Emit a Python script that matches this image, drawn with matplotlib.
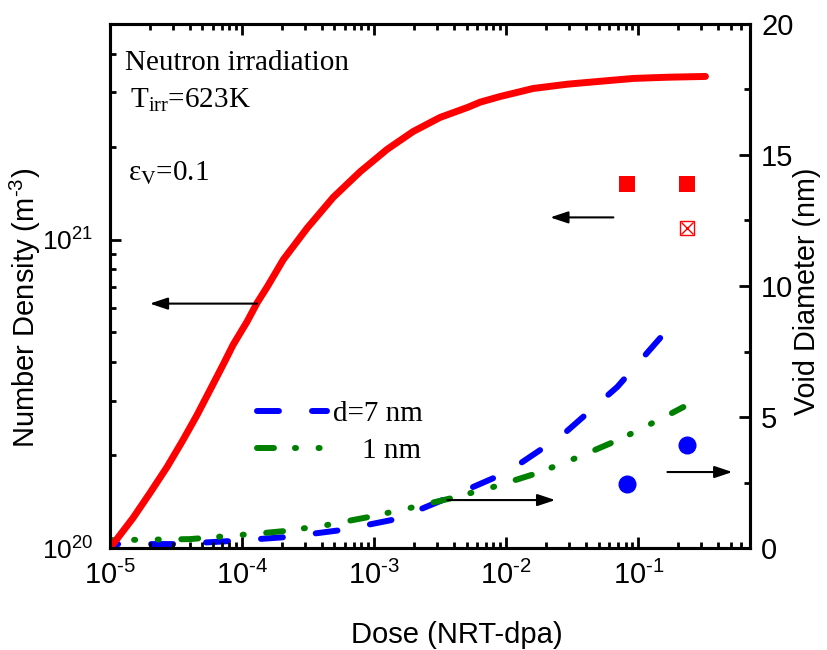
import numpy as np
import matplotlib
matplotlib.use('Agg')
import matplotlib.pyplot as plt
from matplotlib.lines import Line2D
from matplotlib.ticker import LogLocator, FuncFormatter, NullFormatter, MultipleLocator

# 数据：数密度（左轴，对数）
dose_density = [1.0e-5, 1.49e-5, 2.01e-5, 2.70e-5, 3.57e-5, 4.56e-5, 5.73e-5, 7.18e-5, 8.55e-5,
                1.09e-4, 1.30e-4, 1.55e-4, 2.05e-4, 3.11e-4, 4.89e-4, 7.83e-4, 1.25e-3,
                1.97e-3, 3.16e-3, 5.07e-3, 6.35e-3, 9.0e-3, 1.6e-2, 2.9e-2, 5.15e-2,
                9.16e-2, 0.166, 0.322]
number_density = [1.0e20, 1.25e20, 1.51e20, 1.83e20, 2.24e20, 2.70e20, 3.26e20, 3.93e20, 4.56e20,
                  5.42e20, 6.24e20, 7.03e20, 8.61e20, 1.09e21, 1.37e21, 1.66e21, 1.96e21,
                  2.24e21, 2.49e21, 2.68e21, 2.79e21, 2.91e21, 3.09e21, 3.19e21, 3.26e21,
                  3.33e21, 3.36e21, 3.38e21]

# 空洞直径（右轴）
dose_d7 = [1e-5, 3.22e-5, 8.4e-5, 2.19e-4, 5.73e-4, 1.49e-3, 3.76e-3, 1.02e-2, 2.66e-2, 6.93e-2, 0.160]
diam_d7 = [0.15, 0.15, 0.27, 0.42, 0.69, 1.11, 1.95, 2.90, 4.31, 6.15, 8.24]
dose_d1 = [1e-5, 4.04e-5, 1.44e-4, 2.12e-4, 4.41e-4, 9.01e-4, 1.87e-3, 3.90e-3, 7.97e-3,
           1.72e-2, 3.51e-2, 7.31e-2, 0.152, 0.219]
diam_d1 = [0.3, 0.34, 0.57, 0.65, 0.88, 1.18, 1.53, 1.91, 2.33, 2.86, 3.47, 4.16, 4.96, 5.38]

# 实验点
exp_dose = [0.0826, 0.235]
exp_density = [1.51e21, 1.51e21]
exp_dose_cross = [0.235]
exp_density_cross = [1.09e21]
exp_diam = [2.44, 3.93]

# 箭头 (起点, 终点)
arrows_left = [((0.0647, 1.18e21), (0.0215, 1.18e21)),
               ((1.30e-4, 6.2e20), (2.0e-5, 6.2e20))]
arrows_right = [((3.57e-3, 1.83), (2.35e-2, 1.83)),
                ((0.166, 2.9), (0.515, 2.9))]

plt.rcParams['font.family'] = ['Liberation Sans', 'DejaVu Sans']
plt.rcParams['mathtext.fontset'] = 'custom'
plt.rcParams['mathtext.rm'] = 'Liberation Sans'
plt.rcParams['mathtext.default'] = 'regular'
plt.rcParams['lines.scale_dashes'] = False

FS = 21
blue_dash = (15.8, 23.8)
green_dash = (12.2, 15.1, 0.8, 16.2, 0.8, 16.2)


def pow10(v, pos):
    e = int(round(np.log10(v)))
    return r'$10^{\text{%d}}$' % e


fig = plt.figure(figsize=(8.28, 6.5), dpi=100)
ax = fig.add_axes([0.1329, 0.1569, 0.7729, 0.8062])
ax2 = ax.twinx()
ax.set_zorder(ax2.get_zorder() + 1)
ax.patch.set_visible(False)

lw = 4.3
ax2.plot(dose_d7, diam_d7, color='#0000ff', lw=lw, ls=(10, blue_dash), dash_capstyle='round')
ax2.plot(dose_d1, diam_d1, color='#008000', lw=lw, ls=(10, green_dash), dash_capstyle='round')
ax2.plot(exp_dose, exp_diam, 'o', color='#0000ff', ms=12, mec='#0000ff')

ax.plot(dose_density, number_density, color='#ff0000', lw=5, solid_capstyle='round')
ax.plot(exp_dose, exp_density, 's', color='#ff0000', ms=11.5, mew=0)
ax.plot(exp_dose_cross, exp_density_cross, 's', mfc='white', mec='#ff0000', ms=10.5, mew=1)
ax.plot(exp_dose_cross, exp_density_cross, 'x', color='#ff0000', ms=9, mew=1)

for (x0, y0), (x1, y1) in arrows_left:
    ax.annotate('', xy=(x1, y1), xytext=(x0, y0),
                arrowprops=dict(arrowstyle='-|>,head_length=0.6,head_width=0.2',
                                mutation_scale=18, lw=1.5, color='black',
                                shrinkA=0, shrinkB=0))
for (x0, y0), (x1, y1) in arrows_right:
    ax2.annotate('', xy=(x1, y1), xytext=(x0, y0),
                 arrowprops=dict(arrowstyle='-|>,head_length=0.6,head_width=0.2',
                                 mutation_scale=18, lw=1.5, color='black',
                                 shrinkA=0, shrinkB=0))

ax.set_xscale('log')
ax.set_yscale('log')
ax.set_xlim(1e-5, 0.7)
ax.set_ylim(1e20, 5e21)
ax2.set_ylim(0, 20)

ax.xaxis.set_major_locator(LogLocator(base=10, numticks=10))
ax.xaxis.set_minor_locator(LogLocator(base=10, subs=np.arange(2, 10), numticks=20))
ax.xaxis.set_minor_formatter(NullFormatter())
ax.xaxis.set_major_formatter(FuncFormatter(pow10))
ax.yaxis.set_major_locator(LogLocator(base=10, numticks=10))
ax.yaxis.set_minor_locator(LogLocator(base=10, subs=np.arange(2, 10), numticks=20))
ax.yaxis.set_minor_formatter(NullFormatter())
ax.yaxis.set_major_formatter(FuncFormatter(pow10))
ax2.yaxis.set_major_locator(MultipleLocator(5))
ax2.yaxis.set_minor_locator(MultipleLocator(2.5))

ax.tick_params(which='both', direction='in', top=True, right=False, width=2, labelsize=FS)
ax.tick_params(which='major', length=8)
ax.tick_params(which='minor', length=4.5)
ax.tick_params(axis='x', which='major', pad=9)
ax.tick_params(axis='y', which='major', pad=12, labelsize=19)
ax2.tick_params(which='both', direction='in', width=2, labelsize=FS)
ax2.tick_params(which='major', length=8, pad=8)
ax2.tick_params(which='minor', length=4.5)
for a in (ax, ax2):
    for s in a.spines.values():
        s.set_linewidth(2.2)

ax.set_xlabel('Dose (NRT-dpa)', fontsize=FS)
ax.xaxis.set_label_coords(0.542, -0.139)
ax.set_ylabel(r'Number Density (m$^{\text{-3}}$)', fontsize=FS)
ax.yaxis.set_label_coords(-0.105, 0.458)
ax2.set_ylabel('Void Diameter (nm)', fontsize=20.7)
ax2.yaxis.set_label_coords(1.067, 0.4905)

serif = ['Liberation Serif', 'DejaVu Serif']
ax.text(0.024, 0.912, 'Neutron irradiation', transform=ax.transAxes, fontsize=FS,
        family=serif, va='baseline')
ax.text(0.031, 0.840, 'T$_{irr}$=623K', transform=ax.transAxes, fontsize=FS,
        family=serif, va='baseline', math_fontfamily='stix')
ax.text(0.028, 0.700, r'$\varepsilon_{\mathrm{V}}$=0.1', transform=ax.transAxes, fontsize=FS,
        family=serif, va='baseline', math_fontfamily='stix')

h7 = Line2D([], [], color='#0000ff', lw=lw, ls=(0, blue_dash), dash_capstyle='round')
h1 = Line2D([], [], color='#008000', lw=lw, ls=(0, green_dash), dash_capstyle='round')
leg = ax.legend(handles=[h7, h1], labels=['d=7 nm', '    1 nm'], loc='upper left',
                bbox_to_anchor=(0.2297, 0.2805),
                frameon=False, handlelength=2.4, handletextpad=0.2, labelspacing=0.35,
                borderaxespad=0, borderpad=0, prop={'family': serif, 'size': FS})

fig.savefig('out.png', dpi=100)
